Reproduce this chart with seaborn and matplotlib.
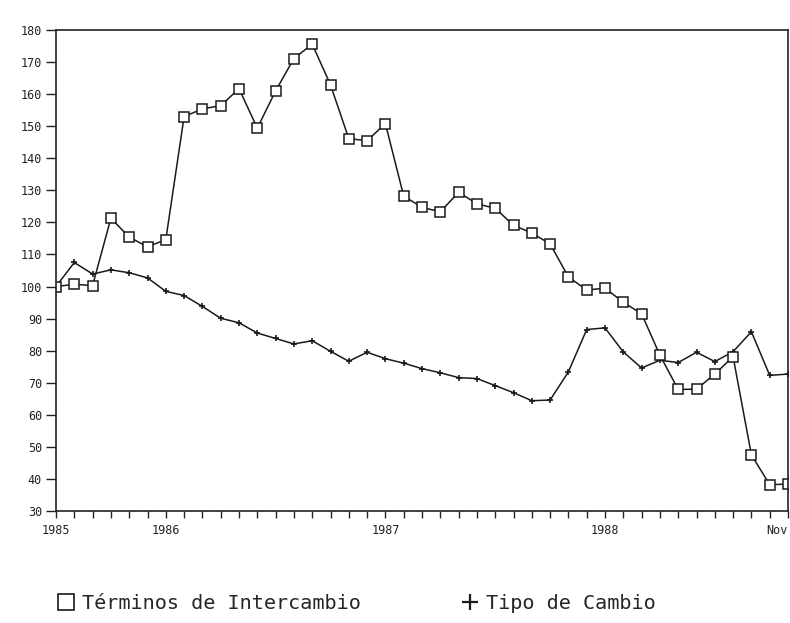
import numpy as np
import pandas as pd
import matplotlib
matplotlib.use("Agg")
import matplotlib.pyplot as plt
import seaborn as sns
from matplotlib.lines import Line2D

# ---- data (monthly, Jul 1985 - Nov 1988) ----
meses = [str(p) for p in pd.period_range("1985-07", "1988-11", freq="M")]
terminos = [100, 100.7, 100.3, 121.3, 115.4, 112.4, 114.6, 153.0, 155.4, 156.4,
            161.7, 149.4, 161.0, 171.1, 175.6, 162.9, 146.1, 145.5, 150.8, 128.2,
            124.7, 123.3, 129.4, 125.8, 124.4, 119.1, 116.7, 113.3, 103.0, 98.9,
            99.5, 95.1, 91.5, 78.6, 67.9, 68.0, 72.7, 78.1, 47.5, 38.2, 38.4]
tipo = [100, 107.5, 103.9, 105.2, 104.3, 102.7, 98.5, 97.2, 93.8, 90.1,
        88.7, 85.5, 83.8, 82.1, 83.1, 79.8, 76.7, 79.5, 77.5, 76.1,
        74.4, 73.1, 71.6, 71.3, 69.1, 66.9, 64.4, 64.6, 73.4, 86.6,
        87.1, 79.6, 74.6, 77.0, 76.3, 79.5, 76.6, 79.7, 85.9, 72.3, 72.7]
xtick_meses = ["1985-07", "1986-01", "1987-01", "1988-01", "1988-11"]
xtick_labels = ["1985", "1986", "1987", "1988", "Nov"]
ytick_vals = list(range(30, 181, 10))
serie_labels = ["Términos de Intercambio", "Tipo de Cambio"]

sns.set_theme(style="white")
plt.rcParams["font.family"] = ["DejaVu Sans Mono", "DejaVu Sans"]

df = pd.DataFrame({"mes": meses, "x": np.arange(len(meses)),
                   "terminos": terminos, "tipo": tipo})

fig = plt.figure(figsize=(7.9, 6.23), dpi=100)
ax = fig.add_axes([56 / 790, 1 - 511 / 623, (788 - 56) / 790, (511 - 30) / 623])

sns.lineplot(data=df, x="x", y="tipo", ax=ax, color="k", lw=1.1,
             marker="+", markersize=5, markeredgecolor="k", markeredgewidth=1.2)
sns.lineplot(data=df, x="x", y="terminos", ax=ax, color="k", lw=1.1,
             marker="s", markersize=7, markerfacecolor="white",
             markeredgecolor="k", markeredgewidth=1.1)

ax.set_xlim(0, len(meses) - 1)
ax.set_ylim(30, 180)
ax.set_yticks(ytick_vals)
ax.set_yticklabels([str(v) for v in ytick_vals])
ax.set_xticks([meses.index(m) for m in xtick_meses])
ax.set_xticklabels(xtick_labels)
ax.set_xticks(np.arange(len(meses)), minor=True)
ax.get_xticklabels()[-1].set_horizontalalignment("right")
ax.set_xlabel("")
ax.set_ylabel("")

ax.tick_params(axis="y", which="major", direction="out", length=7, width=1,
               labelsize=8.5, pad=3, left=True, colors="#222")
ax.tick_params(axis="x", which="both", direction="out", length=5, width=1,
               labelsize=8.5, pad=4, bottom=True, colors="#222")
for s in ax.spines.values():
    s.set_color("#222")
    s.set_linewidth(1.2)

handles = [Line2D([], [], marker="s", ls="none", mfc="white", mec="k", ms=12, mew=1.2),
           Line2D([], [], marker="+", ls="none", color="k", ms=11, mew=1.6)]
fig.legend(handles, serie_labels, loc="center", bbox_to_anchor=(0.452, 0.032),
           ncol=2, frameon=False, fontsize=14.5, columnspacing=5,
           handlelength=0.8, handletextpad=0.4)

fig.savefig("out.png", dpi=100)
